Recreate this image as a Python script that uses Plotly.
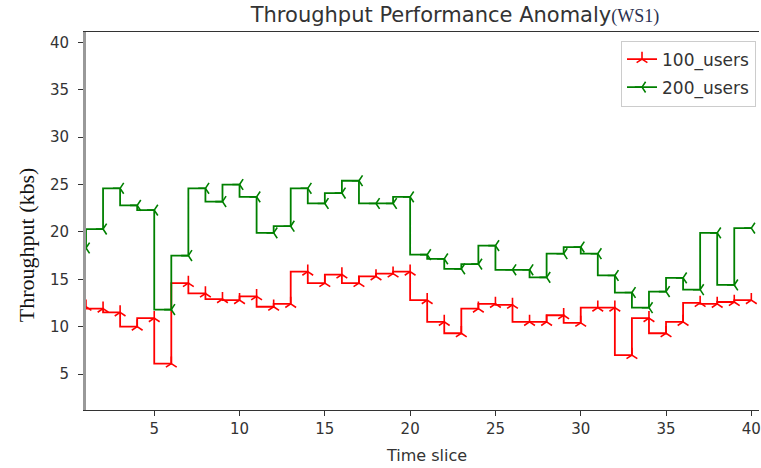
import plotly.graph_objects as go

time_slice = list(range(1, 41))
users_100 = [12.1, 11.9, 11.5, 10.0, 10.9, 6.1, 14.6, 13.5, 12.9, 12.8,
             13.2, 12.1, 12.4, 15.8, 14.6, 15.5, 14.6, 15.3, 15.6, 15.8,
             12.8, 10.5, 9.3, 11.9, 12.4, 12.3, 10.5, 10.5, 11.2, 10.4,
             12.0, 12.0, 7.0, 10.9, 9.3, 10.5, 12.5, 12.4, 12.6, 12.8]
users_200 = [18.3, 20.3, 24.6, 22.8, 22.3, 11.8, 17.5, 24.6, 23.2, 25.0,
             23.7, 19.9, 20.6, 24.6, 23.0, 24.1, 25.4, 23.0, 23.0, 23.7,
             17.6, 17.15, 16.1, 16.6, 18.55, 16.0, 16.0, 15.2, 17.7, 18.4,
             17.7, 15.4, 13.6, 12.0, 13.7, 15.15, 13.9, 19.9, 14.4, 20.4]
x_ticks = [5, 10, 15, 20, 25, 30, 35, 40]
y_ticks = [5, 10, 15, 20, 25, 30, 35, 40]

FONT = "DejaVu Sans"
W, H = 761, 468
L, T, B = 86, 32, 468 - 410
PW, PH = W - L, H - T - B

fig = go.Figure()
fig.add_trace(go.Scatter(
    x=time_slice, y=users_100, name="100_users", mode="lines+markers",
    legendgroup="a",
    line=dict(color="#ff0000", width=1.8, shape="vh"),
    marker=dict(symbol="y-up", size=9, color="#ff0000",
                line=dict(color="#ff0000", width=1.6)),
))
fig.add_trace(go.Scatter(
    x=time_slice, y=users_200, name="200_users", mode="lines+markers",
    legendgroup="b",
    line=dict(color="#008000", width=1.8, shape="vh"),
    marker=dict(symbol="y-left", size=9, color="#008000",
                line=dict(color="#008000", width=1.6)),
))

fig.update_layout(
    width=W, height=H,
    margin=dict(l=L, r=0, t=T, b=B, pad=0),
    paper_bgcolor="white", plot_bgcolor="white",
    font=dict(family=FONT, size=15, color="#333333"),
    showlegend=True,
    legend=dict(
        x=(758 - 86) / PW, xanchor="right", y=(410 - 40.5) / PH, yanchor="top",
        bordercolor="#cccccc", borderwidth=1, bgcolor="white",
        tracegroupgap=3,
        font=dict(family=FONT, size=17, color="#333333"),
    ),
    title=dict(
        text="Throughput Performance Anomaly<span style='font-family:Liberation Serif;font-size:18px;color:#2a3050'>(WS1)</span>",
        x=455 / W, xanchor="center", y=1 - 15 / H, yanchor="middle",
        font=dict(family=FONT, size=21, color="#333333"),
    ),
)

fig.update_xaxes(
    range=[1, 40.45], tickvals=x_ticks, showgrid=False, zeroline=False,
    showline=True, linecolor="#333333", linewidth=1.2, mirror=True,
    ticks="outside", ticklen=5, tickcolor="#333333",
    ticklabeloverflow="allow",
    tickfont=dict(family=FONT, size=15, color="#333333"),
)
fig.update_yaxes(
    range=[1.2, 41.1], tickvals=y_ticks, showgrid=False, zeroline=False,
    showline=True, linecolor="#999999", linewidth=3, mirror=False,
    ticks="outside", ticklen=5, tickcolor="#333333",
    ticklabelstandoff=6,
    tickfont=dict(family=FONT, size=15, color="#333333"),
)

fig.add_annotation(
    text="Throughput (kbs)", textangle=-90, showarrow=False,
    xref="paper", yref="paper", x=(26 - 86) / PW, y=(410 - 245) / PH,
    xanchor="center", yanchor="middle",
    font=dict(family="Liberation Serif", size=22, color="#111111"),
)
fig.add_annotation(
    text="Time slice", showarrow=False,
    xref="paper", yref="paper", x=(427.5 - 86) / PW, y=(410 - 455) / PH,
    xanchor="center", yanchor="middle",
    font=dict(family=FONT, size=16, color="#333333"),
)

fig.write_html(
    "out.html",
    config={"displayModeBar": False},
    post_script="document.body.style.margin='0';document.body.style.overflow='hidden';",
)
